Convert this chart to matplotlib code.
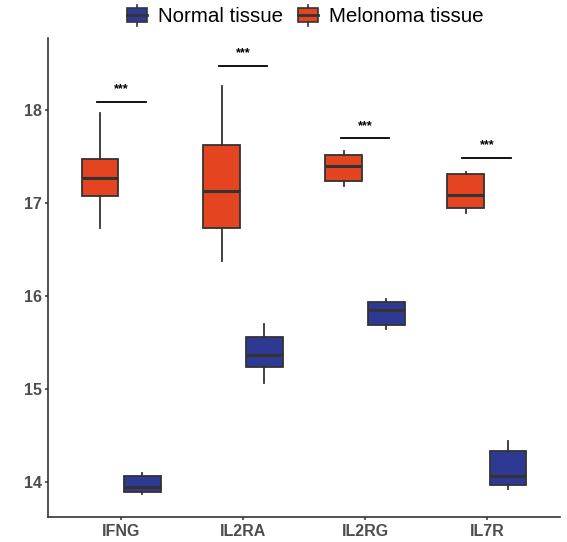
import matplotlib
matplotlib.use("Agg")
import matplotlib.pyplot as plt
from matplotlib.legend_handler import HandlerBase
from matplotlib.patches import Rectangle
from matplotlib.lines import Line2D

plt.rcParams['font.family'] = ['Liberation Sans', 'DejaVu Sans']

genes = ["IFNG", "IL2RA", "IL2RG", "IL7R"]
# melanoma tissue: whisker low, q1, median, q3, whisker high
mel_wlo = [16.73, 16.38, 17.19, 16.90]
mel_q1 = [17.08, 16.73, 17.24, 16.95]
mel_med = [17.27, 17.13, 17.40, 17.09]
mel_q3 = [17.48, 17.63, 17.52, 17.31]
mel_whi = [17.97, 18.26, 17.56, 17.34]
# normal tissue
nor_wlo = [13.87, 15.06, 15.65, 13.92]
nor_q1 = [13.89, 15.24, 15.69, 13.96]
nor_med = [13.94, 15.37, 15.85, 14.06]
nor_q3 = [14.06, 15.56, 15.94, 14.33]
nor_whi = [14.09, 15.70, 15.97, 14.44]
sig_y = [18.09, 18.48, 17.70, 17.49]
sig_label = ["***", "***", "***", "***"]

red = "#E4441F"
blue = "#2E3994"
edge = "#333333"

fig = plt.figure(figsize=(5.67, 5.42), dpi=100)
ax = fig.add_axes([48/567, 25/542, 512/567, 479/542])

def stats(wlo, q1, med, q3, whi):
    return [dict(whislo=a, q1=b, med=c, q3=d, whishi=e, fliers=[])
            for a, b, c, d, e in zip(wlo, q1, med, q3, whi)]

pos = list(range(1, len(genes) + 1))
off = 0.175
w = 0.3
common = dict(widths=w, patch_artist=True, showcaps=False,
              medianprops=dict(color=edge, linewidth=2.2),
              whiskerprops=dict(color=edge, linewidth=1.3),
              manage_ticks=False)
b1 = ax.bxp(stats(mel_wlo, mel_q1, mel_med, mel_q3, mel_whi),
            positions=[p - off for p in pos],
            boxprops=dict(facecolor=red, edgecolor=edge, linewidth=1.3), **common)
b2 = ax.bxp(stats(nor_wlo, nor_q1, nor_med, nor_q3, nor_whi),
            positions=[p + off for p in pos],
            boxprops=dict(facecolor=blue, edgecolor=edge, linewidth=1.3), **common)

for p, y, s in zip(pos, sig_y, sig_label):
    ax.plot([p - 0.2, p + 0.2], [y, y], color="black", linewidth=1.3)
    ax.text(p, y + 0.07, s, ha="center", va="bottom", fontsize=9, fontweight="bold")

ax.set_xlim(0.4, 4.6)
ax.set_ylim(13.62, 18.78)
ax.set_xticks(pos)
ax.set_xticklabels(genes)
ax.set_yticks([14, 15, 16, 17, 18])
for sp in ["top", "right"]:
    ax.spines[sp].set_visible(False)
for sp in ["left", "bottom"]:
    ax.spines[sp].set_color("#333333")
    ax.spines[sp].set_linewidth(1.2)
ax.tick_params(axis="both", colors="#333333", labelcolor="#4d4d4d",
               labelsize=11.5, length=2.5, width=1.1)
ax.tick_params(axis="y", pad=2)
ax.tick_params(axis="x", pad=2.5)
for lab in ax.get_xticklabels() + ax.get_yticklabels():
    lab.set_fontweight("bold")


class BoxHandler(HandlerBase):
    def __init__(self, color):
        super().__init__()
        self.color = color

    def create_artists(self, legend, orig_handle, xdescent, ydescent,
                       width, height, fontsize, trans):
        cx = width / 2 - xdescent
        bw = width
        y0 = -ydescent
        bh = height
        r = Rectangle((cx - bw / 2, y0), bw, bh,
                      facecolor=self.color, edgecolor=edge, linewidth=1.2,
                      transform=trans)
        m = Line2D([cx - bw / 2, cx + bw / 2], [y0 + bh / 2] * 2,
                   color=edge, linewidth=2, transform=trans)
        wt = Line2D([cx, cx], [y0 + bh, y0 + bh + height * 0.25],
                    color=edge, linewidth=1.2, transform=trans)
        wb = Line2D([cx, cx], [y0 - height * 0.25, y0],
                    color=edge, linewidth=1.2, transform=trans)
        return [wt, wb, r, m]

h_norm = Rectangle((0, 0), 1, 1)
h_mel = Rectangle((0, 0), 1, 1)
fig.legend([h_norm, h_mel], ["Normal tissue", "Melonoma tissue"],
           handler_map={h_norm: BoxHandler(blue), h_mel: BoxHandler(red)},
           loc="center", bbox_to_anchor=(305.5/567, 1 - 17/542), ncol=2, frameon=False,
           fontsize=14.8, handlelength=0.95, handleheight=0.65, handletextpad=0.55,
           columnspacing=0.75)

fig.savefig("out.png", dpi=100)
